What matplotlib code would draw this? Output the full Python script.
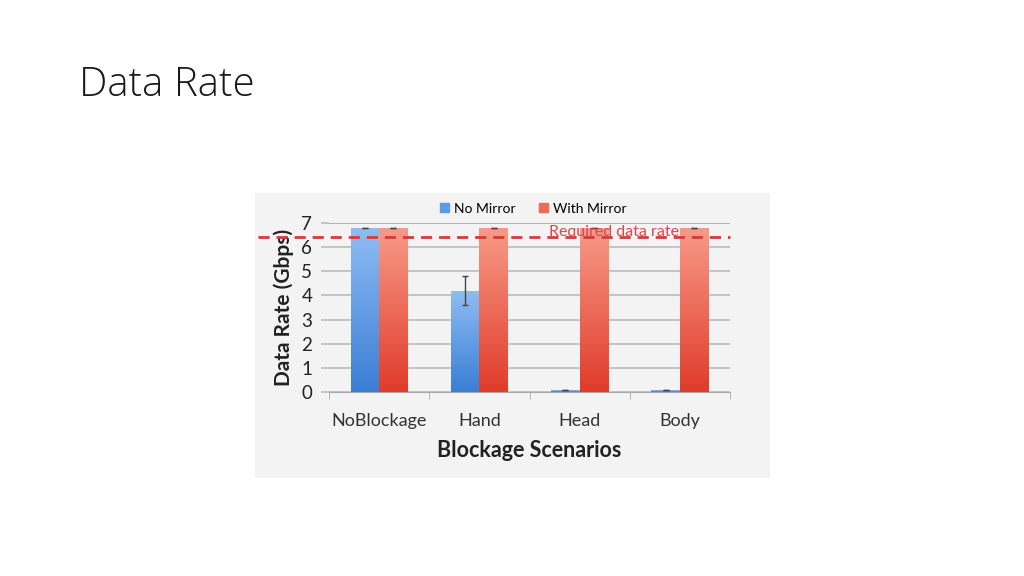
import numpy as np
import matplotlib
matplotlib.use("Agg")
import matplotlib.pyplot as plt
from matplotlib.colors import LinearSegmentedColormap

# chart values
scenarios = ["NoBlockage", "Hand", "Head", "Body"]
no_mirror = [6.8, 4.2, 0.07, 0.07]
no_mirror_err = [0.0, 0.6, 0.0, 0.0]
with_mirror = [6.8, 6.8, 6.8, 6.8]
required_rate = 6.4

plt.rcParams['font.family'] = ['Lato', 'DejaVu Sans']

fig = plt.figure(figsize=(10.24, 5.76), dpi=100)
fig.patch.set_facecolor('white')

# slide title
fig.text(79 / 1024, 1 - 86 / 576, "Data Rate", fontsize=29, color='#1a1a1a',
         va='center', ha='left', fontweight='light', family=['Open Sans', 'DejaVu Sans'])

# light grey picture panel
panel = fig.add_axes([255 / 1024, 1 - 478 / 576, 515 / 1024, 285 / 576])
panel.set_facecolor('#f3f3f3')
panel.set_xticks([])
panel.set_yticks([])
for s in panel.spines.values():
    s.set_visible(False)

ax = fig.add_axes([329 / 1024, 1 - 392 / 576, 401 / 1024, 169 / 576])
ax.patch.set_alpha(0)

x = np.arange(len(scenarios))
w = 0.285

blue_cmap = LinearSegmentedColormap.from_list('b', ['#3a7ed5', '#8fbdf3'])
red_cmap = LinearSegmentedColormap.from_list('r', ['#e03c2a', '#f89a88'])

bars_b = ax.bar(x - w / 2, no_mirror, w, color='#5b9be6', label='No Mirror', zorder=3)
bars_r = ax.bar(x + w / 2, with_mirror, w, color='#ee6a58', label='With Mirror', zorder=3)

grad = np.linspace(0, 1, 256).reshape(-1, 1)
for bars, cmap in ((bars_b, blue_cmap), (bars_r, red_cmap)):
    for b in bars:
        x0, y0 = b.get_x(), b.get_y()
        x1, y1 = x0 + b.get_width(), y0 + b.get_height()
        im = ax.imshow(grad, cmap=cmap, origin='lower', aspect='auto',
                       extent=[x0, x1, y0, y1], zorder=3.5)
        im.set_clip_path(b)
        b.set_alpha(0)

ax.errorbar(x - w / 2, no_mirror, yerr=no_mirror_err, fmt='none',
            ecolor='#444444', elinewidth=1, capsize=2, zorder=5)
ax.errorbar(x + w / 2, with_mirror, yerr=[0.0] * 4, fmt='none',
            ecolor='#444444', elinewidth=1, capsize=2, zorder=5)

# required data rate line, starts at panel edge
ax.plot([-0.5 - 71 / 100, 3.5], [required_rate, required_rate], ls=(0, (4, 2.5)),
        color='#d63a3a', lw=2, zorder=6, clip_on=False)
ax.text(2.99, required_rate - 0.05, "Required data rate", color='#d94a4a',
        fontsize=11.5, ha='right', va='bottom', zorder=7)

ax.set_xlim(-0.5, 3.5)
ax.set_ylim(0, 7)
ax.set_yticks(range(8))
ax.set_yticklabels([str(i) for i in range(8)], fontsize=13.5, color='#222222')
ax.yaxis.grid(True, color='#bbbbbb', lw=1.2, zorder=0)
ax.tick_params(axis='y', length=6, color='#bbbbbb', width=1.2, pad=6)
ax.set_xticks(x)
ax.set_xticklabels(scenarios, fontsize=13, color='#333333')
ax.tick_params(axis='x', length=0, pad=15)
ax.set_xticks(np.arange(-0.5, 4.0, 1.0), minor=True)
ax.tick_params(axis='x', which='minor', length=5, color='#aaaaaa', direction='out')
for s in ('left', 'right', 'top'):
    ax.spines[s].set_visible(False)
ax.spines['bottom'].set_color('#aaaaaa')
ax.axhline(7, color='#888888', lw=1.4, zorder=1)

ax.set_xlabel("Blockage Scenarios", fontsize=15.5, fontweight='bold', color='#222222', labelpad=8)
ax.set_ylabel("Data Rate (Gbps)", fontsize=15, fontweight='bold', color='#222222', labelpad=5)

leg = ax.legend(loc='lower center', bbox_to_anchor=(0.51, 1.0), ncol=2, frameon=False,
                fontsize=10, handlelength=0.6, handleheight=0.6, columnspacing=1.7,
                handletextpad=0.4, borderaxespad=0.2)
for h, c in zip(leg.legend_handles, ['#5b9be6', '#ee6a58']):
    h.set_alpha(1)
    h.set_color(c)

fig.savefig("out.png", dpi=100)
